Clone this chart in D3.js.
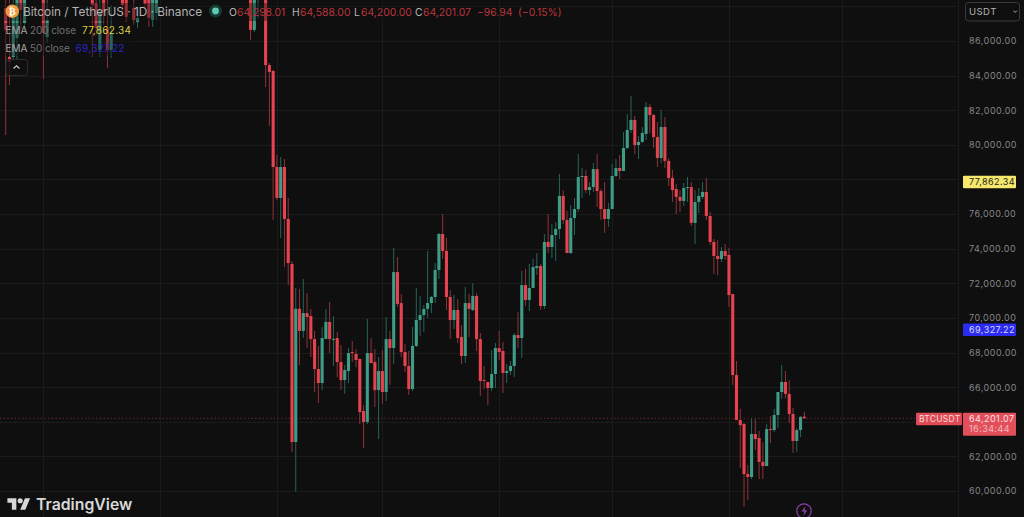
<!DOCTYPE html>
<html>
<head>
<meta charset="utf-8">
<title>BTCUSDT 1D</title>
<script src="https://cdn.jsdelivr.net/npm/d3@7"></script>
<style>
    html, body { margin: 0; padding: 0; background: #0f0f0f; overflow: hidden; }
    svg { display: block; font-family: Inter, "Noto Sans", sans-serif; }
</style>
</head>
<body>
<svg id="chart" width="1024" height="517"></svg>
<script>
// bar numbers, counted from the leftmost visible candle. the gaps are candles above the visible range
const bars = [0, 1, 2, 3, 4, 5, 10, 11, 23, 24, 25, 26, 27, 28, 31, 32, 34, 35, 37, 38, 39, 40, 65, 66, 67]
    .concat(d3.range(69, 213));

const opens = [
    87910, 85080, 85080, 86170, 88660, 87040, 88660, 86230, 88660, 88200, 85480, 88660, 86750, 85480, 88660, 88660, 87910, 87100, 88660, 88660, 87210, 87620, 88660, 86640, 88370,
    88660, 84610, 84270, 78720, 76930, 78720, 75720, 73120,
    62830, 70530, 69250, 70280, 70110, 68780, 67050, 66240, 68780, 69770,
    68750, 68840, 67450, 66410, 66930, 68030, 67920, 67630, 64620, 63990,
    67970, 67450, 65830, 66930, 65720, 68780, 68260, 72650, 70860, 68030,
    67220, 65890, 68380, 69880, 70170, 70520, 70860, 71210, 72770, 74850,
    73870, 71210, 69880, 70460, 68900, 67800, 70860, 70460, 71270, 68780,
    66410, 66300, 65950, 66760, 68260, 68090, 66820, 66930, 67220, 69010,
    68840, 71900, 71040, 71730, 72880, 73000, 70690, 74390, 74100, 74790,
    75140, 77050, 75660, 73750, 75770, 76290,
    78140, 78200, 77390, 77560, 78600, 77330, 76290, 75720, 76290, 78200,
    78660, 78490, 79820, 80860, 81440, 79990, 80170, 80630, 82190, 81720,
    80450, 79240, 81030, 79070, 78090, 77450, 76990, 76760, 77510, 77560,
    75490, 76700, 76990, 77280, 75890, 74390, 73580, 73400, 73870, 73640,
    71380, 66700, 64100, 63870, 60980, 60810, 63290, 63060, 61680, 61440,
    63580, 63520, 64390, 65720, 66300, 65610, 64450, 62890, 63520, 64298.01
];
const highs = [
    88660, 88370, 88370, 88800, 88800, 88800, 88800, 88370, 88800, 88660, 88370, 88800, 88370, 88080, 88800, 88800, 88370, 87910, 88800, 88800, 88800, 88800, 88800, 88800, 88800,
    88800, 84730, 84330, 79410, 79300, 79180, 76930, 73290,
    71730, 71670, 72250, 71440, 70520, 69250, 68380, 69480, 70520, 70920,
    70110, 69190, 68440, 67280, 68260, 68670, 68210, 67640, 64970, 69940,
    68840, 68210, 67740, 68150, 70050, 69250, 74040, 73520, 71380, 68490,
    68090, 69480, 71730, 71270, 70750, 73870, 71270, 73170, 74910, 76000,
    74620, 71610, 71320, 71090, 69590, 71790, 71380, 72020, 71440, 69130,
    67220, 66300, 68150, 68550, 69250, 68610, 67340, 67510, 69130, 70340,
    72710, 72830, 73120, 73400, 73750, 73120, 74850, 76000, 75430, 75540,
    78320, 77390, 76180, 76520, 76930, 79470,
    78660, 78550, 77850, 78950, 79470, 77450, 77850, 76640, 78890, 79180,
    79410, 80740, 81780, 82820, 81670, 80510, 81030, 82480, 82360, 81780,
    81320, 82010, 81610, 79240, 78550, 77740, 77390, 77800, 78140, 77850,
    77390, 77510, 77850, 78090, 76120, 74560, 74500, 74100, 74270, 74040,
    71380, 67510, 64740, 63930, 61500, 64160, 64160, 63470, 62830, 63870,
    64330, 64740, 65720, 67280, 66930, 66410, 64800, 63640, 64330, 64588
];
const lows = [
    80570, 83460, 84900, 84900, 86640, 86640, 83800, 85890, 85080, 86350, 85080, 86930, 84440, 85020, 87500, 87100, 86930, 86750, 87910, 86810, 86810, 87210, 86060, 86520, 87330,
    83340, 81090, 75660, 76810, 74620, 72940, 71900, 62250,
    59960, 67280, 68840, 68260, 67740, 65720, 65080, 65830, 68780, 67970,
    67220, 66590, 65830, 65610, 66240, 67450, 67160, 63870, 62490, 63870,
    67390, 64850, 63000, 65030, 65200, 66120, 67340, 70630, 67740, 66880,
    65550, 65780, 68320, 68960, 69190, 69990, 70280, 70860, 72250, 73400,
    70460, 68780, 69360, 68550, 67340, 67390, 68900, 70400, 68090, 65490,
    65890, 64970, 65780, 65950, 67570, 65660, 66240, 66700, 66590, 68260,
    67680, 70690, 70400, 71730, 72480, 70460, 70520, 73750, 73460, 73290,
    74560, 75430, 73750, 73690, 74790, 76120,
    76930, 77220, 77100, 77280, 76410, 75660, 74910, 75250, 76290, 78140,
    78030, 78490, 79760, 80690, 79470, 79180, 80110, 80280, 80690, 79820,
    78720, 78950, 78660, 77620, 76700, 76000, 76120, 76470, 76700, 75310,
    74270, 76060, 76870, 75660, 74210, 72540, 72480, 73230, 73350, 70630,
    66120, 64100, 61330, 59080, 59480, 60690, 62370, 60690, 60690, 61440,
    62770, 63410, 63640, 65320, 65370, 63930, 62200, 62250, 63120, 64200
];
const closes = [
    86640, 84790, 87790, 88660, 87790, 88660, 86460, 87210, 88080, 86750, 87620, 87680, 85480, 86460, 88080, 87390, 87210, 87330, 88140, 87330, 88660, 88660, 86640, 88660, 88660,
    84610, 84210, 78720, 76930, 78720, 75720, 73170, 62830,
    70530, 69250, 70280, 70050, 68780, 67050, 66240, 68840, 69770, 68780,
    68790, 67450, 66410, 66990, 67970, 67970, 67570, 64560, 63990, 67970,
    67390, 65830, 66930, 65720, 68780, 68260, 72650, 70810, 68030, 67220,
    65890, 68380, 69880, 70170, 70520, 70860, 71210, 72770, 74850, 73870,
    71210, 69880, 70460, 68840, 67800, 70860, 70520, 71270, 68780, 66360,
    66360, 65950, 66760, 68260, 68030, 66820, 66930, 67220, 69010, 68840,
    71900, 71040, 71730, 72940, 73000, 70690, 74390, 74100, 74790, 75140,
    77050, 75660, 73750, 75770, 76290, 78140,
    78200, 77390, 77560, 78600, 77330, 76290, 75720, 76290, 78200, 78660,
    78490, 79820, 80860, 81440, 79990, 80170, 80690, 82190, 81720, 80450,
    79240, 81030, 79070, 78090, 77390, 76990, 76760, 77510, 77560, 75490,
    76700, 77050, 77280, 75890, 74390, 73580, 73400, 73870, 73580, 71320,
    66700, 64100, 63810, 60980, 60810, 63290, 63000, 61680, 61440, 63580,
    63520, 64390, 65720, 66300, 65610, 64450, 62890, 63520, 64280, 64201.07
];

const gridPrices = [60000, 62000, 64000, 66000, 68000, 70000, 72000, 74000, 76000, 78000, 80000, 82000, 84000, 86000, 88000];
// 64,000 and 78,000 sit under the price tags, the chart doesn't print them
const tickPrices = [60000, 62000, 66000, 68000, 70000, 72000, 74000, 76000, 80000, 82000, 84000, 86000];
// first candle of each month
const gridBars = [10, 41, 72, 100, 131, 161, 192, 222, 253];

const lastPrice = 64201.07;
const ema200 = 77862.34;
const ema50 = 69327.22;

const red = '#e6434f';
const green = '#3f9c87';
const redWick = '#8f3339';
const greenWick = '#266658';
const fmt = d3.format(',.2f');

const svg = d3.select('#chart');
const chartWidth = 961;

const yScale = d3.scaleLinear().domain([60000, 86000]).range([491, 41]);
const xScale = d3.scaleLinear().domain([0, 212]).range([5.7, 804.3]);

svg.append('rect').attr('width', 1024).attr('height', 517).attr('fill', '#0f0f0f');

// grid
svg.append('g').selectAll('line')
    .data(gridPrices)
    .enter().append('line')
    .attr('x1', 0).attr('x2', chartWidth)
    .attr('y1', d => Math.round(yScale(d)) + 0.5)
    .attr('y2', d => Math.round(yScale(d)) + 0.5)
    .attr('stroke', '#1b1b1b');

svg.append('g').selectAll('line')
    .data(gridBars)
    .enter().append('line')
    .attr('x1', d => Math.round(xScale(d)) + 0.5)
    .attr('x2', d => Math.round(xScale(d)) + 0.5)
    .attr('y1', 0).attr('y2', 517)
    .attr('stroke', '#1b1b1b');

// last price line
svg.append('line')
    .attr('x1', 0).attr('x2', 916)
    .attr('y1', yScale(lastPrice)).attr('y2', yScale(lastPrice))
    .attr('stroke', '#7a2c32')
    .attr('stroke-width', 1)
    .attr('stroke-dasharray', '1.2,2.5');

// candles
const candles = bars.map(function (b, i) {
    return {bar: b, open: opens[i], high: highs[i], low: lows[i], close: closes[i]};
});

const candleGroups = svg.append('g').selectAll('g')
    .data(candles)
    .enter().append('g');

candleGroups.append('line')
    .attr('x1', d => xScale(d.bar))
    .attr('x2', d => xScale(d.bar))
    .attr('y1', d => yScale(d.high))
    .attr('y2', d => yScale(d.low))
    .attr('stroke', d => d.close < d.open ? redWick : greenWick)
    .attr('stroke-width', 1);

candleGroups.append('rect')
    .attr('x', d => xScale(d.bar) - 1.55)
    .attr('width', 3.1)
    .attr('y', d => yScale(Math.max(d.open, d.close)))
    .attr('height', d => Math.max(1, Math.abs(yScale(d.open) - yScale(d.close))))
    .attr('fill', d => d.close < d.open ? red : green);

// price axis panel
svg.append('rect')
    .attr('x', 959).attr('y', 0).attr('width', 65).attr('height', 517)
    .attr('fill', '#0f0f0f');
svg.append('line')
    .attr('x1', 958.5).attr('x2', 958.5).attr('y1', 0).attr('y2', 517)
    .attr('stroke', '#1b1b1b');

const yAxis = svg.append('g')
    .attr('transform', 'translate(969,0)')
    .call(d3.axisRight(yScale).tickValues(tickPrices).tickFormat(fmt).tickSize(0).tickPadding(0));
yAxis.select('.domain').remove();
yAxis.selectAll('text')
    .attr('fill', '#868686')
    .style('font-family', 'Inter, sans-serif')
    .style('font-size', '9px')
    .style('letter-spacing', '0.05em');

// price tags on the axis
function priceTag(price, bg, color) {
    const y = yScale(price);
    svg.append('rect').attr('x', 963).attr('y', y - 6).attr('width', 53).attr('height', 12.5).attr('rx', 1).attr('fill', bg);
    svg.append('text').attr('x', 969).attr('y', y + 3.3)
        .attr('fill', color).attr('font-size', 9).attr('letter-spacing', '0.05em')
        .text(fmt(price));
}
priceTag(ema200, '#f6e86d', '#26241a');
priceTag(ema50, '#2b2bf2', '#d9d9ff');

const lastY = yScale(lastPrice);
svg.append('rect').attr('x', 916).attr('y', lastY - 5.5).attr('width', 46).attr('height', 12.5).attr('rx', 1).attr('fill', '#df4a55');
svg.append('text').attr('x', 919).attr('y', lastY + 3.6)
    .attr('fill', '#f6dcdc').attr('font-size', 8.5).attr('letter-spacing', '0.03em').text('BTCUSDT');
svg.append('rect').attr('x', 963).attr('y', lastY - 5.5).attr('width', 53).attr('height', 23).attr('rx', 1).attr('fill', '#e24f5a');
svg.append('text').attr('x', 969).attr('y', lastY + 3.6)
    .attr('fill', '#f8e4e4').attr('font-size', 9).attr('letter-spacing', '0.05em').text(fmt(lastPrice));
svg.append('text').attr('x', 969).attr('y', lastY + 13.6)
    .attr('fill', '#f3bcbf').attr('font-size', 9).attr('letter-spacing', '0.05em').text('16:34:44');

// currency selector
svg.append('rect').attr('x', 965.5).attr('y', 2.5).attr('width', 54).attr('height', 18.5).attr('rx', 3)
    .attr('fill', '#0f0f0f').attr('stroke', '#3a3a3a');
svg.append('text').attr('x', 969).attr('y', 15).attr('fill', '#b5b5b5').attr('font-size', 9.5).attr('letter-spacing', '0.05em').text('USDT');
svg.append('path').attr('d', 'M1013.5 10.7l1.7 1.7 1.7-1.7').attr('fill', 'none').attr('stroke', '#b5b5b5');

// legend. the rows dim the candles behind them
svg.append('rect').attr('x', 0).attr('y', 3).attr('width', 560).attr('height', 18).attr('fill', '#0f0f0f').attr('fill-opacity', 0.4);
svg.append('rect').attr('x', 0).attr('y', 23).attr('width', 135).attr('height', 33).attr('fill', '#0f0f0f').attr('fill-opacity', 0.4);

function legendText(x, y, str, color, size) {
    return svg.append('text').attr('x', x).attr('y', y).attr('fill', color).attr('font-size', size).text(str);
}
svg.append('circle').attr('cx', 12.3).attr('cy', 11.3).attr('r', 6.7).attr('fill', '#ee9a3d');
svg.append('text').attr('x', 12.3).attr('y', 15).attr('text-anchor', 'middle')
    .attr('fill', '#fff').attr('font-size', 10).attr('font-weight', 700).attr('font-family', 'DejaVu Sans').text('₿');
legendText(23, 15.5, 'Bitcoin / TetherUS · 1D · Binance', '#b3b3b3', 11.8);
svg.append('circle').attr('cx', 215.5).attr('cy', 11).attr('r', 6.5).attr('fill', '#173a33');
svg.append('circle').attr('cx', 215.5).attr('cy', 11).attr('r', 3.4).attr('fill', '#5fc8ae');

const ohlcRed = '#b9353d';
legendText(229, 15.5, 'O', '#b3b3b3', 10.4);
legendText(237, 15.5, '64,298.01', ohlcRed, 10.4);
legendText(292, 15.5, 'H', '#b3b3b3', 10.4);
legendText(300, 15.5, '64,588.00', ohlcRed, 10.4);
legendText(354, 15.5, 'L', '#b3b3b3', 10.4);
legendText(361, 15.5, '64,200.00', ohlcRed, 10.4);
legendText(415, 15.5, 'C', '#b3b3b3', 10.4);
legendText(423, 15.5, '64,201.07', ohlcRed, 10.4);
legendText(477, 15.5, '−96.94', ohlcRed, 10.4);
legendText(518, 15.5, '(−0.15%)', ohlcRed, 10.4);

legendText(5.5, 33.5, 'EMA', '#a8a8a8', 10);
legendText(30, 33.5, '200 close', '#6f6f6f', 10).attr('letter-spacing', '-0.01em');
legendText(82, 33.5, '77,862.34', '#d8cf45', 10).attr('letter-spacing', '0.03em');
legendText(5.5, 52, 'EMA', '#a8a8a8', 10);
legendText(30, 52, '50 close', '#6f6f6f', 10).attr('letter-spacing', '-0.01em');
legendText(75.5, 52, '69,327.22', '#2a25c8', 10).attr('letter-spacing', '0.03em');

svg.append('rect').attr('x', 6).attr('y', 59.5).attr('width', 21.5).attr('height', 16).attr('rx', 2.5)
    .attr('fill', '#0f0f0f').attr('fill-opacity', 0.7).attr('stroke', '#2c2c2c');
svg.append('path').attr('d', 'M13.5 68.5l3-2.8 3 2.8').attr('fill', 'none').attr('stroke', '#c8c8c8').attr('stroke-width', 1.2);

// TradingView mark
svg.append('path')
    .attr('transform', 'translate(7.4,495.6) scale(0.64)')
    .attr('d', 'M14 22H7V11H0V4h14v18zM28 22h-8l7.5-18h8L28 22z')
    .attr('fill', '#d8d8d8');
svg.append('circle')
    .attr('transform', 'translate(7.4,495.6) scale(0.64)')
    .attr('cx', 20).attr('cy', 8).attr('r', 4).attr('fill', '#d8d8d8');
legendText(36, 510, 'TradingView', '#d8d8d8', 15.8).attr('font-weight', 600);

// bolt button
svg.append('circle').attr('cx', 804).attr('cy', 511).attr('r', 7.2)
    .attr('fill', '#0f0f0f').attr('stroke', '#8c3fa8').attr('stroke-width', 1.2);
svg.append('path').attr('d', 'M805.5 506l-4 5.5h2.8l-1 4.5 4-5.7h-2.8z').attr('fill', '#8c3fa8');
</script>
</body>
</html>
